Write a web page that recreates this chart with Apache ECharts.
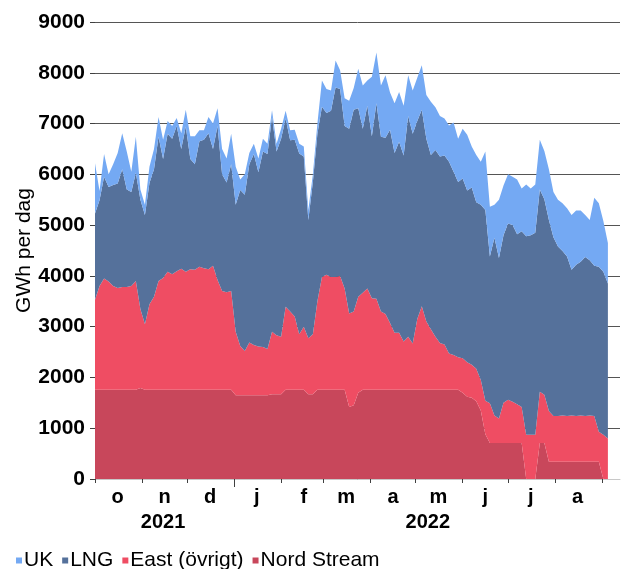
<!DOCTYPE html>
<html>
<head>
<meta charset="utf-8">
<script src="https://cdn.jsdelivr.net/npm/echarts@6.0.0/dist/echarts.min.js"></script>
<style>
  html, body { margin: 0; padding: 0; background: #fff; }
  #chart { width: 622px; height: 569px; }
</style>
</head>
<body>
<div id="chart"></div>
<script>
// readings every 3rd day, starting 1 Oct 2021 (GWh per day)
const stepDays = 3;

const nordStream = [
  1760, 1760, 1760, 1760, 1760, 1760, 1760, 1760, 1760, 1760,
  1790, 1760, 1760, 1760, 1760, 1760, 1760, 1760, 1760, 1760,
  1760, 1760, 1760, 1760, 1760, 1760, 1760, 1760, 1760, 1760,
  1760, 1650, 1650, 1650, 1650, 1650, 1650, 1650, 1650, 1670,
  1670, 1670, 1760, 1760, 1760, 1760, 1760, 1670, 1670, 1760,
  1760, 1760, 1760, 1760, 1760, 1760, 1420, 1450, 1700, 1760,
  1760, 1760, 1760, 1760, 1760, 1760, 1760, 1760, 1760, 1760,
  1760, 1760, 1760, 1760, 1760, 1760, 1760, 1760, 1760, 1760,
  1760, 1700, 1620, 1600, 1530, 1350, 880, 710, 710, 710,
  710, 710, 710, 710, 710, 0, 0, 0, 710, 710,
  340, 340, 340, 340, 340, 340, 340, 340, 340, 340,
  340, 340, 0, 0
];

const east = [
  1770, 2040, 2190, 2130, 2040, 2000, 2020, 2020, 2040, 2140,
  1560, 1290, 1680, 1830, 2140, 2200, 2320, 2270, 2330, 2380,
  2320, 2370, 2360, 2420, 2390, 2370, 2440, 2160, 1940, 1920,
  1940, 1250, 970, 870, 1040, 990, 960, 950, 910, 1230,
  1160, 1130, 1630, 1540, 1440, 1090, 1240, 1100, 1180, 1740,
  2220, 2260, 2220, 2220, 2240, 1990, 1840, 1850, 1890, 1910,
  1990, 1800, 1790, 1540, 1490, 1310, 1120, 1120, 950, 1040,
  910, 1390, 1640, 1340, 1190, 1040, 920, 890, 710, 680,
  640, 680, 680, 650, 640, 600, 660, 780, 540, 480,
  790, 850, 810, 760, 710, 870, 870, 870, 1010, 950,
  1000, 900, 900, 910, 900, 910, 900, 910, 900, 910,
  900, 590, 870, 800
];

const lng = [
  1700, 1690, 2000, 1860, 1990, 2060, 2320, 1920, 1850, 2130,
  2150, 2150, 2390, 2510, 2840, 2340, 2720, 2670, 2860, 2360,
  2860, 2170, 2080, 2470, 2530, 2680, 2300, 3030, 2300, 2160,
  2500, 2500, 3070, 3080, 3510, 3760, 3430, 3850, 3840, 4230,
  3620, 3900, 3710, 3370, 3480, 3560, 3350, 2330, 3000, 3300,
  3350, 3190, 3270, 3730, 3680, 3200, 3640, 3970, 3710, 3230,
  3600, 3190, 3850, 3440, 3470, 3810, 3540, 3760, 3660, 4350,
  4130, 3900, 3870, 3600, 3430, 3680, 3670, 3720, 3780, 3610,
  3450, 3540, 3380, 3490, 3280, 3450, 3760, 2890, 3500, 3160,
  3300, 3470, 3480, 3350, 3460, 3910, 3930, 3980, 3980, 3850,
  3760, 3520, 3340, 3240, 3140, 2870, 2980, 3030, 3130, 3060,
  2960, 3250, 3210, 3050
];

const uk = [
  990, 180, 450, 250, 410, 600, 710, 750, 400, 710,
  200, 200, 320, 400, 390, 380, 250, 250, 160, 310,
  330, 450, 550, 220, 190, 320, 500, 350, 500, 470,
  600, 750, 210, 400, 220, 200, 270, 250, 200, 130,
  150, 200, 150, 200, 200, 190, 200, 200, 150, 200,
  520, 470, 400, 530, 370, 550, 550, 430, 780, 850,
  500, 1170, 1000, 1010, 1230, 730, 980, 980, 980, 800,
  850, 850, 880, 860, 1050, 840, 800, 730, 710, 970,
  850, 980, 1100, 810, 930, 850, 1150, 980, 650, 1150,
  980, 970, 950, 1080, 840, 1020, 920, 950, 980, 950,
  1000, 890, 920, 940, 950, 1080, 1070, 1010, 830, 790,
  1340, 1250, 1000, 800
];

const monthLabels = ["o", "n", "d", "j", "f", "m", "a", "m", "j", "j", "a"];
const yearLabels = ["2021", "2022"];
const seriesNames = ["Nord Stream", "East (övrigt)", "LNG", "UK"];
const legendOrder = ["UK", "LNG", "East (övrigt)", "Nord Stream"];

const colors = {
  "UK": "#74a9f3",
  "LNG": "#55719b",
  "East (övrigt)": "#ef4d63",
  "Nord Stream": "#c8475b"
};

const day = (y, m, d) => new Date(y, m, d).getTime();
const dates = nordStream.map((_, i) => day(2021, 9, 1 + i * stepDays));

// month starts get a tick, the middle of each month a letter
const monthStarts = [];
const monthMids = [];
for (let i = 0; i < 12; i++) monthStarts.push(day(2021, 9 + i, 1));
for (let i = 0; i < monthLabels.length; i++) monthMids.push(day(2021, 9 + i, 16));
const yearPos = [day(2021, 10, 15), day(2022, 4, 9)];
const axisStart = day(2021, 9, 1);
const axisEnd = day(2022, 8, 13);

const font = "Arial, 'Liberation Sans', sans-serif";
const values = [nordStream, east, lng, uk];

const labelAxis = (extra) => Object.assign({
  type: "value",
  position: "bottom",
  min: axisStart,
  max: axisEnd,
  axisLine: { show: false },
  splitLine: { show: false }
}, extra);

const chart = echarts.init(document.getElementById("chart"), null, { renderer: "canvas" });

chart.setOption({
  animation: false,
  textStyle: { fontFamily: font },
  grid: { left: 95, right: 2, top: 22, bottom: 90 },
  legend: {
    data: legendOrder,
    left: 16,
    top: 550,
    padding: 0,
    icon: "rect",
    itemWidth: 6,
    itemHeight: 6,
    itemGap: 9,
    textStyle: { fontSize: 21, color: "#000", fontFamily: font, padding: [0, 0, 0, -3] }
  },
  xAxis: [
    {
      type: "time",
      min: axisStart,
      max: axisEnd,
      axisLine: { show: true, lineStyle: { color: "#c8c8c8", width: 1 } },
      axisTick: { show: false },
      axisLabel: { show: false },
      splitLine: { show: false }
    },
    labelAxis({
      axisTick: {
        show: true,
        customValues: monthStarts,
        length: 4,
        lineStyle: { color: "#404040" }
      },
      axisLabel: {
        customValues: monthMids,
        margin: 8,
        fontSize: 20,
        fontWeight: "bold",
        color: "#000",
        fontFamily: font,
        formatter: (v) => monthLabels[monthMids.indexOf(v)] || ""
      }
    }),
    labelAxis({
      axisTick: {
        show: true,
        customValues: [day(2022, 0, 1)],
        length: 8,
        lineStyle: { color: "#404040" }
      },
      axisLabel: {
        customValues: yearPos,
        margin: 33,
        fontSize: 20,
        fontWeight: "bold",
        color: "#000",
        fontFamily: font,
        formatter: (v) => yearLabels[yearPos.indexOf(v)] || ""
      }
    })
  ],
  yAxis: {
    type: "value",
    min: 0,
    max: 9000,
    interval: 1000,
    name: "GWh per dag",
    nameLocation: "middle",
    nameGap: 60,
    nameMoveOverlap: false,
    nameTextStyle: { fontSize: 21, color: "#000", fontFamily: font },
    axisLine: { show: false },
    axisTick: { show: true, length: 5, lineStyle: { color: "#404040" } },
    axisLabel: {
      margin: 10,
      fontSize: 21,
      fontWeight: "bold",
      color: "#000",
      fontFamily: font,
      formatter: (v) => String(v)
    },
    splitLine: { show: true, lineStyle: { color: "#555", width: 1 } }
  },
  series: seriesNames.map((name, s) => ({
    name: name,
    type: "line",
    stack: "gas",
    xAxisIndex: 0,
    symbol: "none",
    showSymbol: false,
    lineStyle: { width: 0 },
    itemStyle: { color: colors[name] },
    areaStyle: { color: colors[name], opacity: 1 },
    data: dates.map((t, i) => [t, values[s][i]])
  }))
});

window.addEventListener("resize", () => chart.resize());
</script>
</body>
</html>
